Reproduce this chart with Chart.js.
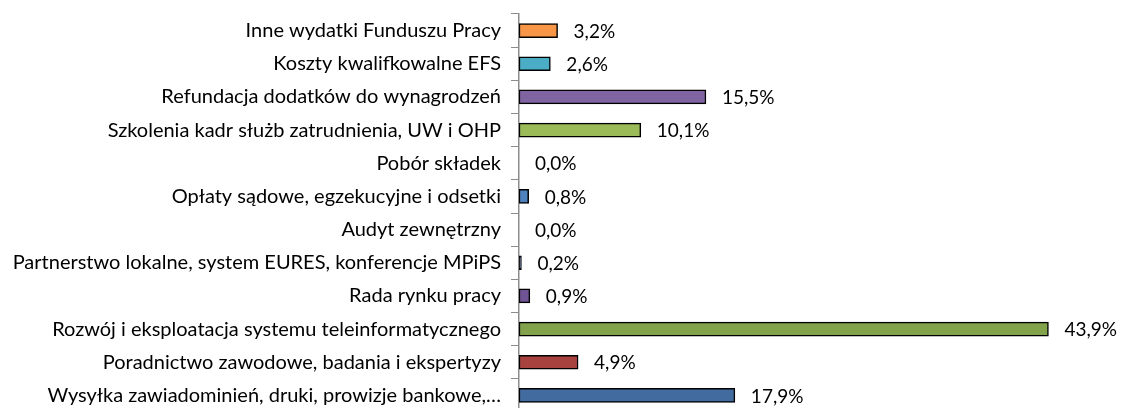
<!DOCTYPE html>
<html>
<head>
<meta charset="utf-8">
<script src="https://cdn.jsdelivr.net/npm/chart.js@4/dist/chart.umd.min.js"></script>
<style>
    html, body { margin: 0; padding: 0; background: #fff; overflow: hidden; }
</style>
</head>
<body>
<canvas id="costChart" width="1122" height="412"></canvas>
<script>
// Data (share of costs, %)
const categories = [
    'Inne wydatki Funduszu Pracy',
    'Koszty kwalifkowalne EFS',
    'Refundacja dodatków do wynagrodzeń',
    'Szkolenia kadr służb zatrudnienia, UW i OHP',
    'Pobór składek',
    'Opłaty sądowe, egzekucyjne i odsetki',
    'Audyt zewnętrzny',
    'Partnerstwo lokalne, system EURES, konferencje MPiPS',
    'Rada rynku pracy',
    'Rozwój i eksploatacja systemu teleinformatycznego',
    'Poradnictwo zawodowe, badania i ekspertyzy',
    'Wysyłka zawiadominień, druki, prowizje bankowe,…'
];
const shares = [3.2, 2.6, 15.5, 10.1, 0.0, 0.8, 0.0, 0.2, 0.9, 43.9, 4.9, 17.9];
const barColors = [
    '#F79646', '#4BACC6', '#8064A2', '#9BBB59', '#4F81BD', '#4F81BD',
    '#4F81BD', '#1F3864', '#6F5394', '#82A24C', '#A8423F', '#426BA0'
];

const FONT = 'Lato, "Open Sans", sans-serif';

// Writes "x,y%" to the right of every bar
const valueLabels = {
    id: 'valueLabels',
    afterDatasetsDraw(chart) {
        const ctx = chart.ctx;
        const meta = chart.getDatasetMeta(0);
        ctx.save();
        ctx.font = '19px ' + FONT;
        ctx.fillStyle = '#000';
        ctx.textBaseline = 'middle';
        ctx.textAlign = 'left';
        meta.data.forEach((bar, i) => {
            const txt = shares[i].toFixed(1).replace('.', ',') + '%';
            ctx.fillText(txt, bar.x + 16, bar.y + 1);
        });
        ctx.restore();
    }
};

document.addEventListener('DOMContentLoaded', () => {
    const ctx = document.getElementById('costChart').getContext('2d');
    new Chart(ctx, {
        type: 'bar',
        data: {
            labels: categories,
            datasets: [{
                data: shares,
                backgroundColor: barColors,
                borderColor: '#000',
                borderWidth: 1.5,
                borderSkipped: false,
                barThickness: 14
            }]
        },
        options: {
            indexAxis: 'y',
            responsive: false,
            animation: false,
            layout: { padding: { top: 14, bottom: 0, left: 0, right: 0 } },
            plugins: {
                legend: { display: false },
                tooltip: { enabled: false }
            },
            scales: {
                x: {
                    display: false,
                    min: 0,
                    max: 50
                },
                y: {
                    afterFit: (scale) => {
                        scale.width = 519;
                        // no extra room for half labels at the ends
                        scale.paddingTop = 0;
                        scale.paddingBottom = 0;
                    },
                    grid: {
                        drawOnChartArea: false,
                        tickLength: 8,
                        color: '#8c8c8c',
                        lineWidth: 1
                    },
                    border: { color: '#8c8c8c', width: 1.5 },
                    ticks: {
                        color: '#000',
                        padding: 10,
                        font: { family: FONT, size: 20 }
                    }
                }
            }
        },
        plugins: [valueLabels]
    });
});
</script>
</body>
</html>
